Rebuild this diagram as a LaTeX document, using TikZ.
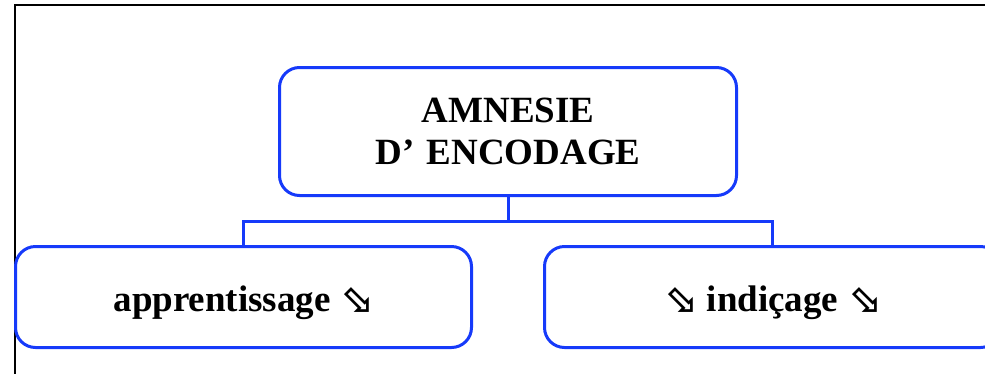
\documentclass[tikz,border=0pt]{standalone}
\usepackage{fontspec}
\setmainfont{Liberation Serif}
\newfontfamily\arrowfont{DejaVu Sans}
\usepackage{tikz}
\usetikzlibrary{positioning, calc}

\definecolor{boxblue}{RGB}{22,58,250}
\newcommand{\sedown}{{\arrowfont\fontsize{40}{40}\selectfont ⬂}}

\begin{document}
\begin{tikzpicture}[
  x=1pt, y=-1pt,
  amnbox/.style={draw=boxblue, line width=3pt, rounded corners=20pt, fill=white, align=center,
    font=\bfseries\fontsize{37}{42}\selectfont},
  leafbox/.style={amnbox, minimum width=456pt, minimum height=101pt, text height=29pt, text depth=0pt},
  link/.style={draw=boxblue, line width=3pt}
]
  % Page and frame
  \clip (0,0) rectangle (985,373);
  \draw[line width=2pt] (15,400) |- (1100,5);

  % Root
  \node[amnbox, minimum width=457pt, minimum height=128pt] (root) at (508,131.5)
    {AMNESIE\\D’\,\,ENCODAGE};

  % Children
  \node[leafbox] (appr) at (243.5,297) {apprentissage \sedown};
  \node[leafbox] (indi) at (772.5,297) {\sedown{} indiçage \sedown};

  % Links
  \coordinate (split) at (508,221);
  \draw[link] (root.south) -- (split);
  \draw[link] (appr.north) |- (split) -| (indi.north);

\end{tikzpicture}
\end{document}
